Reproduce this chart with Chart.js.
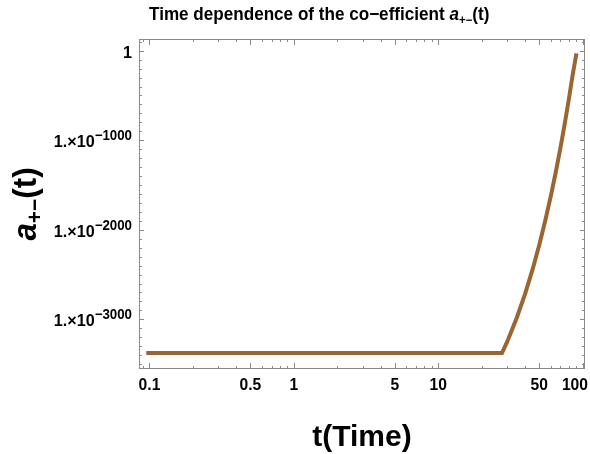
<!DOCTYPE html>
<html lang="en">
<head>
  <meta charset="UTF-8">
  <title>Time dependence of the co-efficient</title>
  <script src="https://cdn.jsdelivr.net/npm/chart.js"></script>
  <style>
    body { margin: 0; background: #fff; }
    canvas { display: block; }
  </style>
</head>
<body>
  <canvas id="coefChart" width="590" height="454"></canvas>

  <script>
    // t values and log10 of a+-(t)
    const tValues = [0.095, 27.6, 30, 35, 40, 45, 50, 55, 60, 65, 70, 75, 80, 85, 90.5];
    const log10A = [-3375, -3375, -3250, -2980, -2710, -2440, -2170, -1900, -1630, -1360, -1090, -820, -550, -280, -30];

    // axis ticks
    const xMajorTicks = [0.1, 0.5, 1, 5, 10, 50, 100];
    const xMinorTicks = [0.09, 0.2, 0.3, 0.4, 0.6, 0.7, 0.8, 0.9, 2, 3, 4, 6, 7, 8, 9, 20, 30, 40, 60, 70, 80, 90];
    const yMajorTicks = [0, -1000, -2000, -3000];

    const FONT = '"Liberation Sans", Arial, sans-serif';
    const frameColor = '#8a8a8a';

    // a run of text pieces: [text, size, dy, italic]; sx squeezes the glyphs
    function runWidth(ctx, parts, sx = 1) {
      let w = 0;
      parts.forEach(p => {
        ctx.font = (p[3] ? 'italic ' : '') + 'bold ' + p[1] + 'px ' + FONT;
        w += ctx.measureText(p[0]).width;
      });
      return w * sx;
    }
    function drawRun(ctx, parts, x, y, sx = 1) {
      ctx.save();
      ctx.translate(x, y);
      ctx.scale(sx, 1);
      let cx = 0;
      parts.forEach(p => {
        ctx.font = (p[3] ? 'italic ' : '') + 'bold ' + p[1] + 'px ' + FONT;
        ctx.fillText(p[0], cx, p[2]);
        cx += ctx.measureText(p[0]).width;
      });
      ctx.restore();
    }

    const framePlugin = {
      id: 'mmaFrame',
      afterDraw(chart) {
        const ctx = chart.ctx;
        const a = chart.chartArea;
        const xs = chart.scales.x, ys = chart.scales.y;
        ctx.save();
        ctx.strokeStyle = frameColor;
        ctx.lineWidth = 1;
        ctx.strokeRect(a.left + 0.5, a.top + 0.5, a.right - a.left - 1, a.bottom - a.top - 1);

        ctx.beginPath();
        const xTick = (v, len) => {
          const px = Math.round(xs.getPixelForValue(v)) + 0.5;
          ctx.moveTo(px, a.bottom); ctx.lineTo(px, a.bottom - len);
          ctx.moveTo(px, a.top); ctx.lineTo(px, a.top + len);
        };
        const yTick = (v, len) => {
          const py = Math.round(ys.getPixelForValue(v)) + 0.5;
          ctx.moveTo(a.left, py); ctx.lineTo(a.left + len, py);
          ctx.moveTo(a.right, py); ctx.lineTo(a.right - len, py);
        };
        xMajorTicks.forEach(v => xTick(v, 6));
        xMinorTicks.forEach(v => xTick(v, 3));
        for (let v = 100; v >= -3500; v -= 100) {
          yTick(v, v % 1000 === 0 ? 5 : 3);
        }
        ctx.stroke();

        ctx.fillStyle = '#000';
        ctx.textBaseline = 'alphabetic';
        ctx.textAlign = 'left';

        // x tick labels, kept inside the canvas
        xMajorTicks.forEach(v => {
          const parts = [[String(v), 17, 0]];
          const w = runWidth(ctx, parts, 0.92);
          const left = Math.min(xs.getPixelForValue(v) - w / 2, 588 - w);
          drawRun(ctx, parts, left, 390, 0.92);
        });

        // y tick labels 1.x10^-n
        yMajorTicks.forEach(v => {
          const parts = v === 0 ? [['1', 17, 0]] :
            [['1.\u00d710', 17, 0], ['\u2212' + (-v), 14, -7]];
          const w = runWidth(ctx, parts, 0.95);
          drawRun(ctx, parts, 132 - w, ys.getPixelForValue(v) + 7, 0.95);
        });

        // title
        const title = [['Time dependence of the co\u2212efficient ', 18, 0], ['a', 18, 0, true], ['+\u2212', 12, 4], ['(t)', 18, 0]];
        drawRun(ctx, title, 149, 20, 0.95);

        // x axis title
        const xt = [['t(Time)', 30, 0]];
        drawRun(ctx, xt, (a.left + a.right) / 2 - runWidth(ctx, xt) / 2, 446);

        // y axis title, rotated
        ctx.save();
        ctx.translate(36, 204);
        ctx.rotate(-Math.PI / 2);
        const yt = [['a', 33, 0, true], ['+\u2212', 22, 6], ['(t)', 33, 0]];
        drawRun(ctx, yt, -runWidth(ctx, yt, 0.95) / 2, 0, 0.95);
        ctx.restore();

        ctx.restore();
      }
    };

    const ctx = document.getElementById('coefChart').getContext('2d');
    new Chart(ctx, {
      type: 'scatter',
      data: {
        datasets: [{
          data: tValues.map((t, i) => ({ x: t, y: log10A[i] })),
          showLine: true,
          borderColor: '#996633',
          borderWidth: 4,
          borderCapStyle: 'butt',
          pointRadius: 0,
          tension: 0
        }]
      },
      options: {
        responsive: false,
        animation: false,
        layout: { padding: { left: 139, right: 5, top: 39, bottom: 85 } },
        plugins: { legend: { display: false }, tooltip: { enabled: false } },
        scales: {
          x: { type: 'logarithmic', min: 0.0846, max: 103.7, display: false },
          y: { type: 'linear', min: -3555, max: 131, display: false }
        }
      },
      plugins: [framePlugin]
    });
  </script>
</body>
</html>
